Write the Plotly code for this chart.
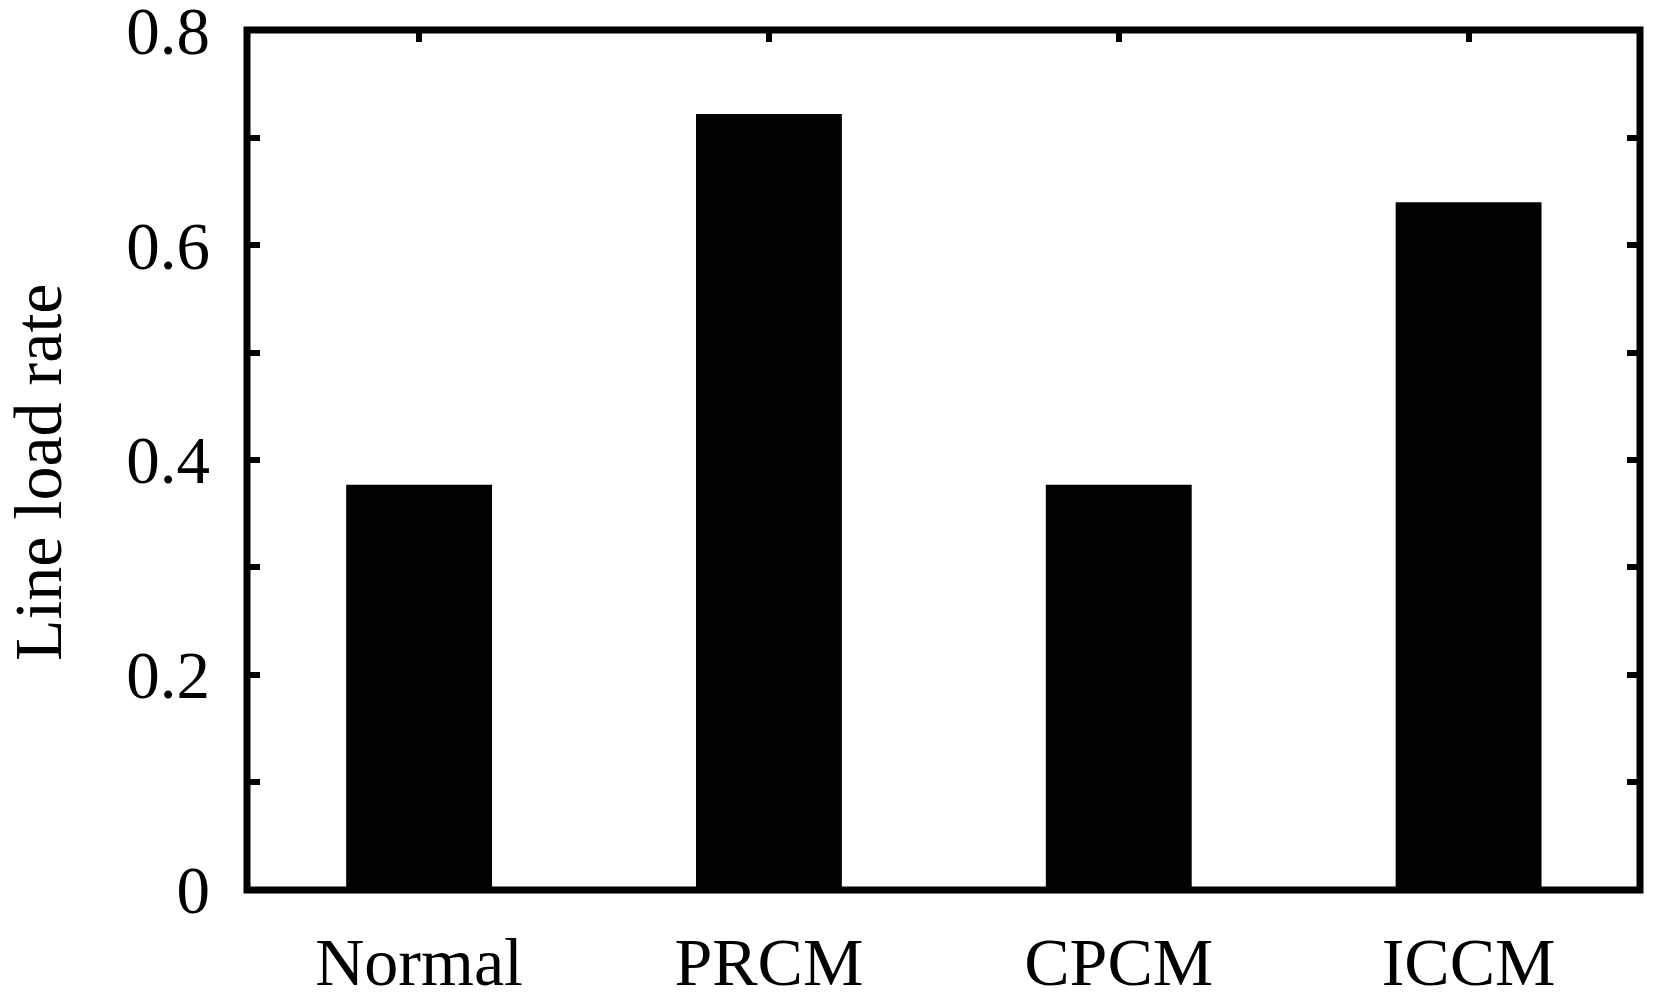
import plotly.graph_objects as go

categories = ["Normal", "PRCM", "CPCM", "ICCM"]
load_rate = [0.377, 0.722, 0.377, 0.640]
y_tick_vals = [0, 0.1, 0.2, 0.3, 0.4, 0.5, 0.6, 0.7, 0.8]
y_tick_text = ["0", "", "0.2", "", "0.4", "", "0.6", "", "0.8"]
y_title = "Line load rate"

FONT = "Liberation Serif"

fig = go.Figure()
fig.add_trace(go.Bar(
    x=list(range(len(categories))),
    y=load_rate,
    width=0.417,
    marker=dict(color="black", line=dict(width=0)),
    showlegend=False,
))

fig.update_layout(
    width=1648, height=988,
    margin=dict(l=239, r=16, t=22, b=106),
    paper_bgcolor="white", plot_bgcolor="white",
    font=dict(family=FONT, color="black"),
    xaxis=dict(
        range=[-0.492, 3.49],
        tickvals=list(range(len(categories))),
        ticktext=categories,
        ticks="inside", ticklen=12, tickwidth=6, tickcolor="black",
        mirror="ticks",
        showline=False, showgrid=False, zeroline=False,
        tickfont=dict(family=FONT, size=68, color="black"),
        ticklabelstandoff=26,
        ticklabeloverflow="allow",
        automargin=False,
    ),
    yaxis=dict(
        range=[-0.0002, 0.8002],
        tickvals=y_tick_vals,
        ticktext=y_tick_text,
        ticks="inside", ticklen=13, tickwidth=6, tickcolor="black",
        mirror="ticks",
        showline=False, showgrid=False, zeroline=False,
        tickfont=dict(family=FONT, size=67, color="black"),
        ticklabelstandoff=36,
        ticklabeloverflow="allow",
        automargin=False,
    ),
    shapes=[dict(type="rect", xref="paper", yref="paper", x0=0, x1=1, y0=0, y1=1,
                 line=dict(color="black", width=7), fillcolor="rgba(0,0,0,0)", layer="above")],
    annotations=[dict(text=y_title, xref="paper", yref="paper", x=-0.15, y=0.486,
                      xanchor="center", yanchor="middle", textangle=-90, showarrow=False,
                      font=dict(family=FONT, size=68, color="black"))],
)

fig.write_html("out.html")
